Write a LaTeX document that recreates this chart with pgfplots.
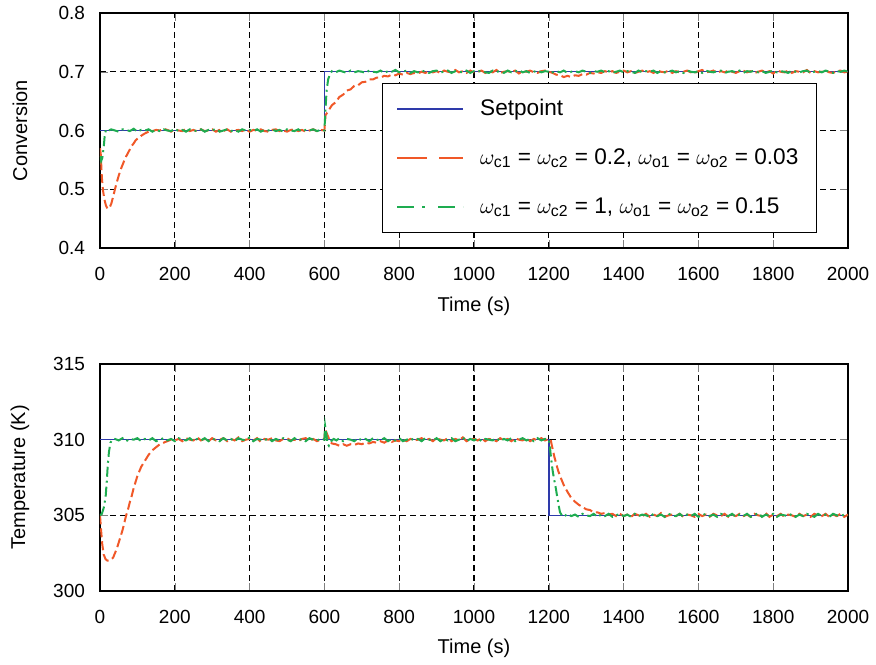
\documentclass[border=0pt]{standalone}
\usepackage{amsmath}
\usepackage{fontspec}
\setmainfont{Liberation Sans}
\usepackage{pgfplots}
\pgfplotsset{compat=1.18}

\definecolor{spblue}{RGB}{46,58,170}
\definecolor{slorange}{RGB}{240,88,40}
\definecolor{fagreen}{RGB}{30,172,80}

\pgfplotsset{
  panel/.style={
    scale only axis, width=374pt,
    xmin=0, xmax=2000, xtick={0,200,...,2000},
    tick align=inside, tick pos=both, major tick length=4pt,
    grid=major, grid style={black, line width=0.65pt, dash pattern=on 3pt off 2pt},
    axis line style={line width=0.9pt},
    /pgf/number format/assume math mode=true,
    /pgf/number format/1000 sep={},
    tick label style={font=\fontsize{9.5}{11}\selectfont},
    label style={font=\fontsize{10}{12}\selectfont},
    xticklabel style={yshift=-6pt},
    yticklabel style={xshift=-4pt},
  },
  sp/.style={spblue, line width=0.7pt},
  slow/.style={slorange, line width=1pt, dash pattern=on 4.5pt off 2pt,
    legend image post style={dash pattern=on 15pt off 6pt}},
  fast/.style={fagreen, line width=1pt, dash pattern=on 5pt off 2pt on 1pt off 2pt,
    legend image post style={dash pattern=on 8.5pt off 4pt on 1.5pt off 6.5pt}},
}

\begin{document}
\begin{tikzpicture}
\path[use as bounding box] (-50pt,-36.5pt) rectangle (388pt,295.5pt);

\begin{axis}[panel, at={(0pt,171.5pt)}, height=117.5pt,
  ymin=0.4, ymax=0.8, ytick={0.4,0.5,...,0.8},
  yticklabel style={/pgf/number format/fixed, /pgf/number format/precision=1, /pgf/number format/fixed zerofill},
  xlabel={Time (s)}, ylabel={Conversion},
  xlabel style={at={(axis description cs:0.5,-0.247)}, anchor=center},
  ylabel style={at={(axis description cs:-0.107,0.5)}, anchor=center},
  legend style={at={(axis description cs:0.9586,0.064)}, anchor=south east,
    draw=black, line width=0.7pt, font=\fontsize{11.3}{13}\selectfont,
    row sep=11pt, inner xsep=7pt, inner ysep=6pt,
    /tikz/every odd column/.append style={column sep=6pt}},
  legend cell align=left,
  legend image code/.code={\draw[#1] (0pt,0pt) -- (33pt,0pt);},
]
\addplot[sp] coordinates {(0,0.6) (600,0.6) (600,0.7) (2000,0.7)};
\addlegendentry{Setpoint}
\addplot[slow] coordinates {
(0,0.570) (2,0.560) (5,0.520) (8,0.498) (12,0.482) (16,0.472) (20,0.467) (25,0.468) (30,0.475) (35,0.487)
(40,0.500) (45,0.512) (50,0.523) (55,0.533) (60,0.541) (65,0.549) (70,0.556) (75,0.562) (80,0.568) (85,0.574)
(90,0.578) (95,0.583) (100,0.586) (110,0.591) (120,0.595) (130,0.598) (140,0.599) (150,0.601) (160,0.600) (170,0.603)
(180,0.601) (190,0.598) (200,0.602) (210,0.600) (220,0.599) (230,0.603) (240,0.599) (250,0.601) (260,0.598) (270,0.602)
(280,0.599) (290,0.600) (300,0.602) (310,0.598) (320,0.601) (330,0.599) (340,0.602) (350,0.598) (360,0.600) (370,0.601)
(380,0.599) (390,0.602) (400,0.598) (410,0.601) (420,0.600) (430,0.602) (440,0.599) (450,0.598) (460,0.601) (470,0.602)
(480,0.599) (490,0.600) (500,0.598) (510,0.601) (520,0.602) (530,0.599) (540,0.601) (550,0.598) (560,0.600) (570,0.602)
(580,0.599) (590,0.601) (600,0.600)
(603,0.626) (610,0.633) (620,0.643) (630,0.648) (640,0.657) (650,0.661) (660,0.668) (670,0.670) (680,0.676) (690,0.677)
(700,0.682) (710,0.683) (720,0.687) (730,0.687) (740,0.690) (750,0.690) (760,0.693) (770,0.692) (780,0.695) (790,0.694)
(800,0.697) (810,0.695) (820,0.698) (830,0.696) (840,0.698) (850,0.697) (860,0.700) (870,0.698) (880,0.701) (890,0.699)
(900,0.701) (910,0.698) (920,0.702) (930,0.700) (940,0.699) (950,0.703) (960,0.699) (970,0.701) (980,0.698) (990,0.702)
(1000,0.699) (1010,0.700) (1020,0.702) (1030,0.698) (1040,0.701) (1050,0.699) (1060,0.703) (1070,0.698) (1080,0.700) (1090,0.701)
(1100,0.699) (1110,0.702) (1120,0.697) (1130,0.701) (1140,0.700) (1150,0.702) (1160,0.699) (1170,0.698) (1180,0.701) (1190,0.702)
(1200,0.700) (1210,0.698) (1220,0.695) (1230,0.694) (1240,0.691) (1250,0.693) (1260,0.691) (1270,0.694) (1280,0.693) (1290,0.696)
(1300,0.695) (1310,0.698) (1320,0.697) (1330,0.699) (1340,0.698) (1350,0.701) (1360,0.699) (1370,0.701) (1380,0.698) (1390,0.700)
(1400,0.702) (1410,0.699) (1420,0.701) (1430,0.698) (1440,0.700) (1450,0.702) (1460,0.699) (1470,0.701) (1480,0.698) (1490,0.702)
(1500,0.700) (1510,0.699) (1520,0.702) (1530,0.698) (1540,0.701) (1550,0.699) (1560,0.700) (1570,0.702) (1580,0.699) (1590,0.698)
(1600,0.701) (1610,0.703) (1620,0.699) (1630,0.700) (1640,0.702) (1650,0.698) (1660,0.701) (1670,0.699) (1680,0.702) (1690,0.700)
(1700,0.698) (1710,0.701) (1720,0.702) (1730,0.699) (1740,0.701) (1750,0.698) (1760,0.700) (1770,0.702) (1780,0.699) (1790,0.701)
(1800,0.697) (1810,0.702) (1820,0.700) (1830,0.699) (1840,0.702) (1850,0.698) (1860,0.701) (1870,0.700) (1880,0.699) (1890,0.703)
(1900,0.698) (1910,0.701) (1920,0.699) (1930,0.700) (1940,0.702) (1950,0.699) (1960,0.698) (1970,0.701) (1980,0.702) (1990,0.699)
(2000,0.700)};
\addlegendentry{$\omega_{\text{c1}}$ = $\omega_{\text{c2}}$ = 0.2, $\omega_{\text{o1}}$ = $\omega_{\text{o2}}$ = 0.03\hspace{6pt}}
\addplot[fast] coordinates {
(0,0.556) (3,0.548) (6,0.553) (10,0.572) (13,0.594) (16,0.601) (20,0.599) (30,0.602) (40,0.600) (50,0.598)
(60,0.602) (70,0.601) (80,0.599) (90,0.603) (100,0.598) (110,0.601) (120,0.600) (130,0.602) (140,0.598) (150,0.601)
(160,0.599) (170,0.602) (180,0.600) (190,0.599) (200,0.603) (210,0.599) (220,0.601) (230,0.598) (240,0.602) (250,0.600)
(260,0.599) (270,0.602) (280,0.598) (290,0.601) (300,0.600) (310,0.603) (320,0.598) (330,0.600) (340,0.602) (350,0.599)
(360,0.601) (370,0.598) (380,0.602) (390,0.600) (400,0.601) (410,0.599) (420,0.602) (430,0.598) (440,0.601) (450,0.600)
(460,0.602) (470,0.599) (480,0.601) (490,0.598) (500,0.602) (510,0.600) (520,0.599) (530,0.602) (540,0.598) (550,0.601)
(560,0.600) (570,0.602) (580,0.599) (590,0.601) (600,0.600)
(603,0.638) (606,0.668) (610,0.687) (615,0.696) (620,0.701) (630,0.699) (640,0.702) (650,0.700) (660,0.698) (670,0.702)
(680,0.699) (690,0.701) (700,0.700) (710,0.698) (720,0.702) (730,0.700) (740,0.699) (750,0.702) (760,0.698) (770,0.701)
(780,0.700) (790,0.703) (800,0.699) (810,0.700) (820,0.702) (830,0.698) (840,0.701) (850,0.699) (860,0.702) (870,0.700)
(880,0.698) (890,0.701) (900,0.702) (910,0.699) (920,0.700) (930,0.702) (940,0.698) (950,0.701) (960,0.700) (970,0.699)
(980,0.702) (990,0.698) (1000,0.701) (1010,0.700) (1020,0.702) (1030,0.699) (1040,0.698) (1050,0.702) (1060,0.700) (1070,0.701)
(1080,0.698) (1090,0.702) (1100,0.699) (1110,0.700) (1120,0.703) (1130,0.699) (1140,0.701) (1150,0.698) (1160,0.700) (1170,0.702)
(1180,0.699) (1190,0.701) (1200,0.700) (1205,0.697) (1210,0.699) (1220,0.701) (1230,0.699) (1240,0.702) (1250,0.698) (1260,0.700)
(1270,0.701) (1280,0.699) (1290,0.702) (1300,0.700) (1310,0.698) (1320,0.701) (1330,0.700) (1340,0.702) (1350,0.699) (1360,0.701)
(1370,0.698) (1380,0.700) (1390,0.702) (1400,0.699) (1410,0.701) (1420,0.700) (1430,0.698) (1440,0.702) (1450,0.699) (1460,0.701)
(1470,0.700) (1480,0.702) (1490,0.698) (1500,0.701) (1510,0.699) (1520,0.700) (1530,0.702) (1540,0.699) (1550,0.701) (1560,0.698)
(1570,0.702) (1580,0.700) (1590,0.699) (1600,0.701) (1610,0.698) (1620,0.702) (1630,0.700) (1640,0.699) (1650,0.701) (1660,0.702)
(1670,0.698) (1680,0.700) (1690,0.701) (1700,0.699) (1710,0.702) (1720,0.698) (1730,0.701) (1740,0.700) (1750,0.702) (1760,0.699)
(1770,0.701) (1780,0.698) (1790,0.700) (1800,0.702) (1810,0.699) (1820,0.701) (1830,0.700) (1840,0.698) (1850,0.702) (1860,0.700)
(1870,0.699) (1880,0.701) (1890,0.702) (1900,0.698) (1910,0.700) (1920,0.701) (1930,0.699) (1940,0.702) (1950,0.700) (1960,0.698)
(1970,0.701) (1980,0.700) (1990,0.702) (2000,0.700)};
\addlegendentry{$\omega_{\text{c1}}$ = $\omega_{\text{c2}}$ = 1, $\omega_{\text{o1}}$ = $\omega_{\text{o2}}$ = 0.15}
\end{axis}

\begin{axis}[panel, at={(0pt,0pt)}, height=113.5pt,
  ymin=300, ymax=315, ytick={300,305,310,315},
  xlabel={Time (s)}, ylabel={Temperature (K)},
  xlabel style={at={(axis description cs:0.5,-0.251)}, anchor=center},
  ylabel style={at={(axis description cs:-0.107,0.5)}, anchor=center},
]
\addplot[sp] coordinates {(0,310) (1200,310) (1200,305) (2000,305)};
\addplot[slow] coordinates {
(0,305.0) (3,304.0) (6,303.1) (10,302.4) (15,302.1) (20,302.0) (25,302.0) (30,302.1) (35,302.2) (40,302.5)
(45,302.8) (50,303.2) (55,303.6) (60,304.0) (65,304.5) (70,305.0) (75,305.4) (80,305.9) (85,306.3) (90,306.8)
(95,307.2) (100,307.6) (110,308.2) (120,308.6) (130,309.0) (140,309.3) (150,309.5) (160,309.7) (170,309.8) (180,309.9)
(190,310.0) (200,309.95) (210,310.05) (220,309.9) (230,310.1) (240,310.0) (250,309.95) (260,310.15) (270,309.95) (280,310.05)
(290,309.9) (300,310.1) (310,309.95) (320,310.0) (330,310.1) (340,309.9) (350,310.05) (360,309.95) (370,310.15) (380,309.9)
(390,310.0) (400,310.05) (410,309.95) (420,310.1) (430,309.85) (440,310.05) (450,310.0) (460,310.1) (470,309.95) (480,309.9)
(490,310.05) (500,310.1) (510,309.95) (520,310.0) (530,309.9) (540,310.05) (550,310.1) (560,309.95) (570,310.05) (580,309.9)
(590,310.0) (600,310.05)
(602,310.7) (605,310.5) (610,310.2) (615,309.9) (620,309.75) (630,309.7) (640,309.6) (650,309.7) (660,309.6) (670,309.7)
(680,309.65) (690,309.75) (700,309.7) (710,309.8) (720,309.75) (730,309.85) (740,309.8) (750,309.9) (760,309.8) (770,309.95)
(780,309.85) (790,309.95) (800,309.9) (810,310.0) (820,309.9) (830,310.05) (840,309.95) (850,310.0) (860,310.1) (870,309.95)
(880,310.05) (890,309.9) (900,310.1) (910,310.0) (920,309.95) (930,310.1) (940,309.9) (950,310.05) (960,309.95) (970,310.15)
(980,309.9) (990,310.0) (1000,310.05) (1010,309.95) (1020,310.1) (1030,309.9) (1040,310.05) (1050,310.0) (1060,309.9) (1070,310.1)
(1080,309.95) (1090,310.05) (1100,309.9) (1110,310.1) (1120,310.0) (1130,309.95) (1140,310.1) (1150,309.9) (1160,310.05) (1170,309.95)
(1180,310.1) (1190,309.95) (1200,310.05) (1205,310.0)
(1210,309.4) (1215,308.85) (1220,308.4) (1225,307.95) (1230,307.6) (1240,307.0) (1250,306.55) (1260,306.15) (1270,305.9) (1280,305.7)
(1290,305.55) (1300,305.4) (1310,305.35) (1320,305.2) (1330,305.2) (1340,305.1) (1350,305.15) (1360,305.05) (1370,305.1) (1380,304.95)
(1390,305.1) (1400,304.95) (1410,305.05) (1420,304.9) (1430,305.1) (1440,305.0) (1450,304.95) (1460,305.1) (1470,304.9) (1480,305.05)
(1490,304.95) (1500,305.15) (1510,304.9) (1520,305.0) (1530,305.05) (1540,304.95) (1550,305.1) (1560,304.9) (1570,305.05) (1580,305.0)
(1590,304.9) (1600,305.1) (1610,304.95) (1620,305.05) (1630,304.9) (1640,305.1) (1650,305.0) (1660,304.95) (1670,305.1) (1680,304.9)
(1690,305.05) (1700,304.95) (1710,305.1) (1720,304.95) (1730,305.05) (1740,304.9) (1750,305.1) (1760,305.0) (1770,304.95) (1780,305.15)
(1790,304.9) (1800,305.05) (1810,304.95) (1820,305.1) (1830,304.9) (1840,305.05) (1850,305.0) (1860,304.9) (1870,305.1) (1880,304.95)
(1890,305.05) (1900,304.9) (1910,305.1) (1920,305.0) (1930,304.95) (1940,305.1) (1950,304.9) (1960,305.05) (1970,304.95) (1980,305.1)
(1990,304.9) (2000,305.05)};
\addplot[fast] coordinates {
(0,305.0) (5,305.1) (10,305.5) (15,306.2) (18,307.2) (21,308.4) (24,309.2) (28,309.8) (33,310.0) (40,310.05) (50,309.95)
(60,310.1) (70,309.9) (80,310.05) (90,310.0) (100,310.1) (110,309.9) (120,310.05) (130,309.95) (140,310.1) (150,309.9)
(160,310.0) (170,310.1) (180,309.95) (190,310.05) (200,309.9) (210,310.1) (220,310.0) (230,309.95) (240,310.1) (250,309.9)
(260,310.05) (270,309.95) (280,310.1) (290,309.9) (300,310.05) (310,310.0) (320,309.9) (330,310.1) (340,309.95) (350,310.05)
(360,309.9) (370,310.1) (380,310.0) (390,309.95) (400,310.15) (410,309.9) (420,310.05) (430,310.0) (440,309.95) (450,310.1)
(460,309.9) (470,310.05) (480,309.95) (490,310.1) (500,310.0) (510,309.9) (520,310.1) (530,309.95) (540,310.05) (550,309.9)
(560,310.1) (570,310.0) (580,309.95) (590,310.05) (600,310.0)
(602,310.9) (605,310.4) (608,309.75) (612,309.6) (618,309.9) (625,310.05) (632,309.95) (640,310.1) (650,309.9) (660,310.05)
(670,310.0) (680,309.9) (690,310.1) (700,309.95) (710,310.05) (720,309.9) (730,310.1) (740,310.0) (750,309.95) (760,310.1)
(770,309.9) (780,310.05) (790,309.95) (800,310.1) (810,309.9) (820,310.0) (830,310.1) (840,309.95) (850,310.05) (860,309.9)
(870,310.1) (880,310.0) (890,309.95) (900,310.1) (910,309.9) (920,310.05) (930,309.95) (940,310.1) (950,309.9) (960,310.0)
(970,310.15) (980,309.9) (990,310.05) (1000,309.95) (1010,310.1) (1020,309.9) (1030,310.05) (1040,310.0) (1050,309.95) (1060,310.1)
(1070,309.9) (1080,310.05) (1090,309.95) (1100,310.1) (1110,309.9) (1120,310.0) (1130,310.1) (1140,309.95) (1150,310.05) (1160,309.9)
(1170,310.1) (1180,309.95) (1190,310.05) (1200,310.0)
(1203,309.5) (1206,308.8) (1210,308.0) (1214,307.4) (1218,306.9) (1222,306.3) (1226,305.7) (1230,305.2) (1235,305.0) (1240,304.9)
(1250,305.1) (1260,304.95) (1270,305.05) (1280,304.9) (1290,305.1) (1300,305.0) (1310,304.95) (1320,305.1) (1330,304.9) (1340,305.05)
(1350,304.95) (1360,305.1) (1370,304.9) (1380,305.0) (1390,305.1) (1400,304.95) (1410,305.05) (1420,304.9) (1430,305.1) (1440,304.95)
(1450,305.05) (1460,305.0) (1470,304.9) (1480,305.1) (1490,304.95) (1500,305.05) (1510,304.9) (1520,305.1) (1530,305.0) (1540,304.95)
(1550,305.1) (1560,304.9) (1570,305.05) (1580,304.95) (1590,305.1) (1600,304.9) (1610,305.0) (1620,305.1) (1630,304.95) (1640,305.05)
(1650,304.9) (1660,305.1) (1670,305.0) (1680,304.95) (1690,305.1) (1700,304.9) (1710,305.05) (1720,304.95) (1730,305.1) (1740,304.9)
(1750,305.0) (1760,305.15) (1770,304.9) (1780,305.05) (1790,304.95) (1800,305.1) (1810,304.9) (1820,305.05) (1830,305.0) (1840,304.95)
(1850,305.1) (1860,304.9) (1870,305.05) (1880,304.95) (1890,305.1) (1900,305.0) (1910,304.9) (1920,305.1) (1930,304.95) (1940,305.05)
(1950,304.9) (1960,305.1) (1970,305.0) (1980,304.95) (1990,305.05) (2000,305.0)};
\end{axis}
\end{tikzpicture}
\end{document}
